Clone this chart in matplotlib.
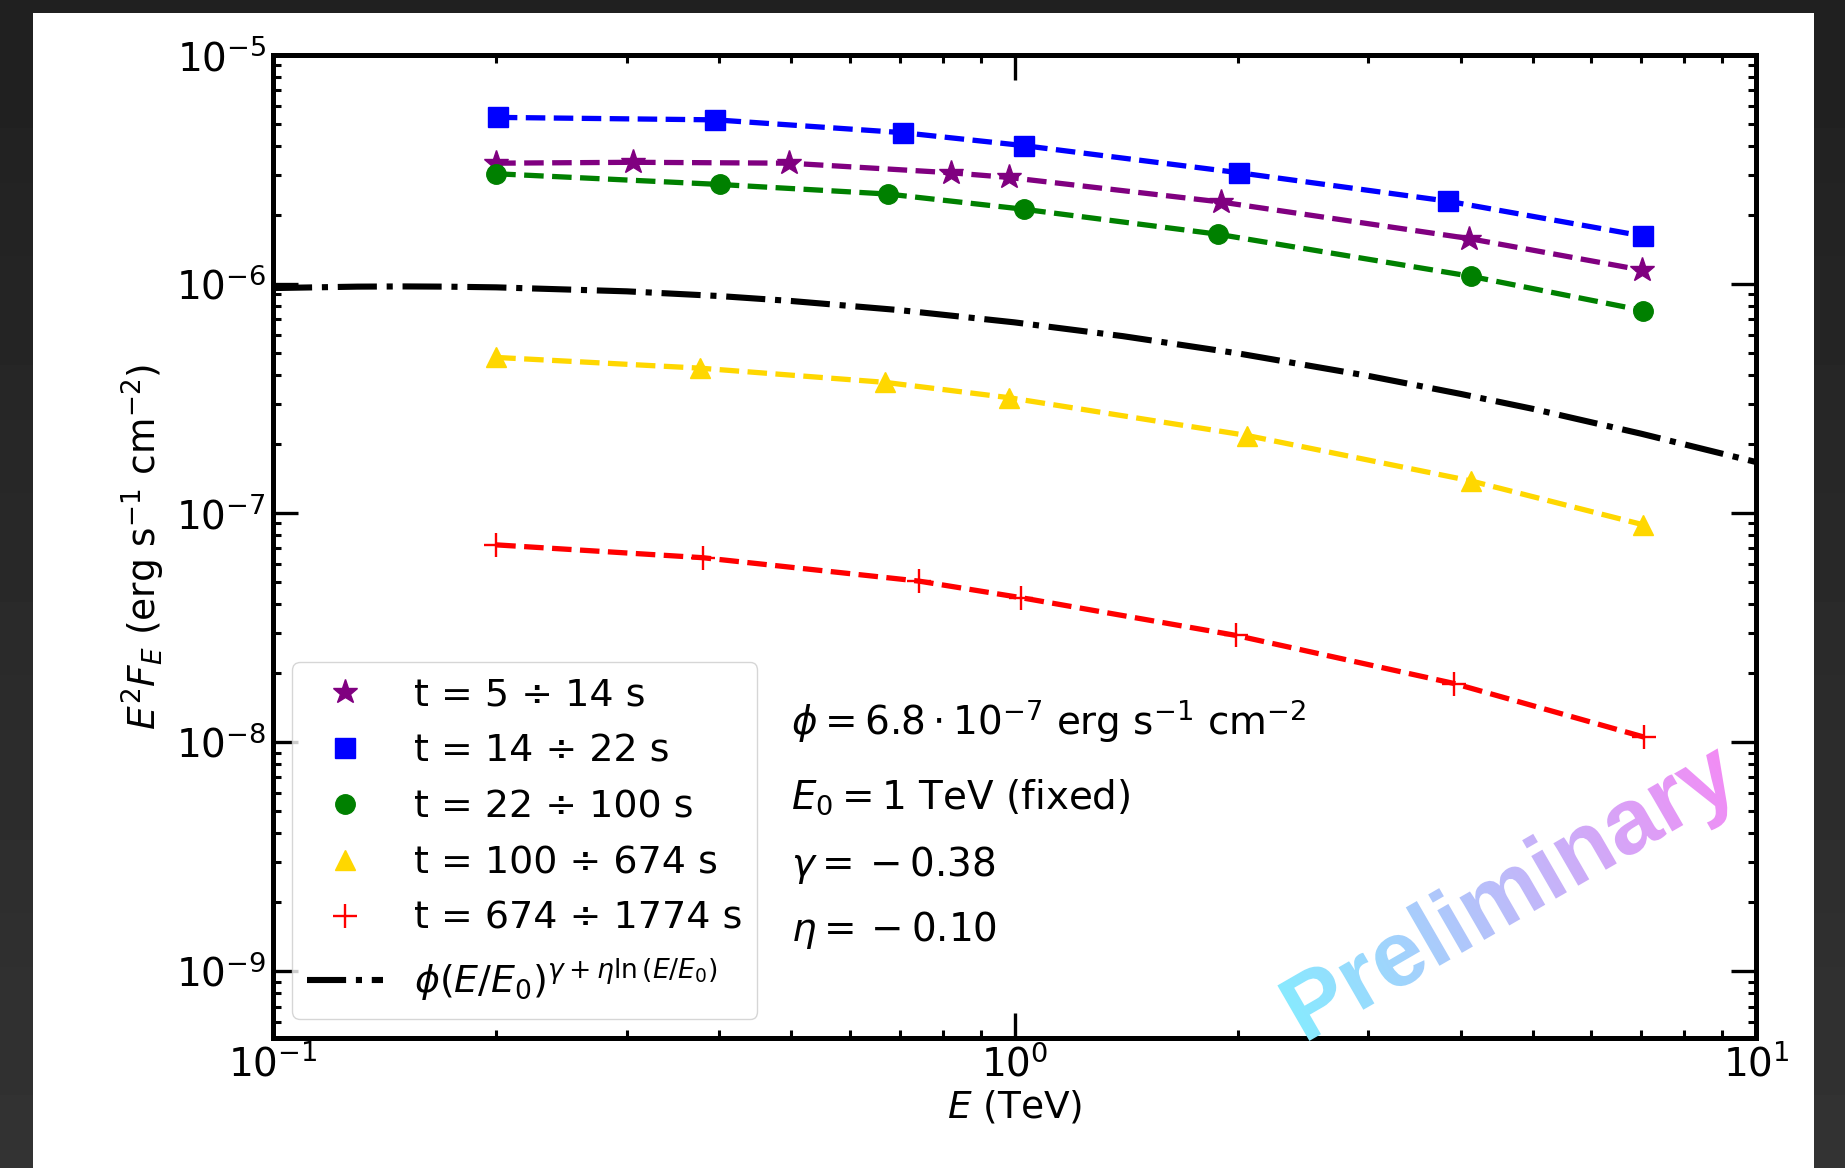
import numpy as np
import matplotlib
matplotlib.use("Agg")
import matplotlib.pyplot as plt
from matplotlib.patches import Rectangle, PathPatch
from matplotlib.textpath import TextPath
from matplotlib.font_manager import FontProperties
from matplotlib.transforms import Affine2D

# ---- data ----
E_star = [0.200, 0.306, 0.497, 0.821, 0.982, 1.90, 4.10, 7.02]
F_star = [3.37e-6, 3.40e-6, 3.37e-6, 3.06e-6, 2.92e-6, 2.28e-6, 1.58e-6, 1.15e-6]

E_sq = [0.201, 0.395, 0.707, 1.03, 2.01, 3.84, 7.04]
F_sq = [5.34e-6, 5.21e-6, 4.58e-6, 4.02e-6, 3.06e-6, 2.30e-6, 1.62e-6]

E_circ = [0.200, 0.401, 0.676, 1.03, 1.88, 4.13, 7.04]
F_circ = [3.03e-6, 2.72e-6, 2.47e-6, 2.12e-6, 1.65e-6, 1.08e-6, 7.66e-7]

E_tri = [0.200, 0.377, 0.669, 0.982, 2.06, 4.13, 7.04]
F_tri = [4.78e-7, 4.29e-7, 3.72e-7, 3.19e-7, 2.18e-7, 1.38e-7, 8.89e-8]

E_plus = [0.200, 0.380, 0.744, 1.02, 1.99, 3.92, 7.07]
F_plus = [7.26e-8, 6.38e-8, 5.04e-8, 4.27e-8, 2.92e-8, 1.80e-8, 1.05e-8]

# log-parabola model curve, sampled along the drawn line
E_model = [0.10, 0.13, 0.15, 0.17, 0.20, 0.30, 0.40, 0.50, 0.70, 1.0, 1.4, 2.0, 3.0, 4.0, 5.0, 7.0, 10.0]
F_model = [9.60e-7, 9.74e-7, 9.76e-7, 9.74e-7, 9.67e-7, 9.29e-7, 8.86e-7, 8.43e-7, 7.69e-7,
           6.80e-7, 5.92e-7, 4.98e-7, 3.97e-7, 3.31e-7, 2.85e-7, 2.22e-7, 1.67e-7]

labels = ["t = 5 ÷ 14 s", "t = 14 ÷ 22 s", "t = 22 ÷ 100 s",
          "t = 100 ÷ 674 s", "t = 674 ÷ 1774 s"]
model_label = r"$\phi(E/E_0)^{\gamma + \eta \ln{(E/E_0)}}$"
fit_text = [r"$\phi = 6.8 \cdot 10^{-7}$ erg s$^{-1}$ cm$^{-2}$",
            r"$E_0 = 1$ TeV (fixed)",
            r"$\gamma = {} - 0.38$",
            r"$\eta = {} - 0.10$"]

W, H = 1845, 1168
fig = plt.figure(figsize=(W / 100, H / 100), dpi=100, facecolor="#202020")

# dark viewer border with white canvas
bg = fig.add_axes([0, 0, 1, 1], zorder=-20)
bg.imshow(np.linspace(0.2, 0.125, 64).reshape(-1, 1), cmap="gray", vmin=0, vmax=1,
          aspect="auto", extent=[0, 1, 0, 1], origin="lower")
bg.set_axis_off()
fig.add_artist(Rectangle((33 / W, 0), (1814 - 33) / W, (H - 13) / H,
                         transform=fig.transFigure, facecolor="white",
                         edgecolor="none", zorder=-10))

ax = fig.add_axes([273 / W, 1 - 1038 / H, (1756 - 273) / W, (1038 - 55) / H])

series = [
    (E_star, F_star, "*", "purple", 18.5),
    (E_sq, F_sq, "s", "blue", 14),
    (E_circ, F_circ, "o", "green", 14),
    (E_tri, F_tri, "^", "gold", 14),
    (E_plus, F_plus, "+", "red", 17.5),
]

model_line, = ax.plot(E_model, F_model, color="black", ls="-.", lw=4.4, zorder=2)

handles = []
for (x, y, m, c, ms), lab in zip(series, labels):
    ax.plot(x, y, ls="--", color=c, lw=3.8, zorder=3)
    h, = ax.plot(x, y, ls="none", marker=m, color=c, ms=ms,
                 mew=1.7 if m == "+" else 1, label=lab, zorder=4)
    handles.append(h)
model_line.set_label(model_label)
handles.append(model_line)

ax.set_xscale("log")
ax.set_yscale("log")
ax.set_xlim(0.1, 10)
ax.set_ylim(5.1e-10, 1e-5)

ax.set_xlabel(r"$E$ (TeV)", fontsize=27, labelpad=3)
ax.set_ylabel(r"$E^2 F_E$ (erg s$^{-1}$ cm$^{-2}$)", fontsize=27, labelpad=6)

ax.tick_params(which="both", direction="in", top=True, right=True)
ax.tick_params(which="major", length=18, width=2.4, labelsize=28, pad=5)
ax.tick_params(which="minor", length=6, width=2.2)
for sp in ax.spines.values():
    sp.set_linewidth(3.6)

leg = ax.legend(handles=handles, loc="lower left", fontsize=27.4, labelspacing=0.52)

for i, t in enumerate(fit_text):
    ax.text(0.349, [0.3225, 0.245, 0.176, 0.110][i], t, transform=ax.transAxes,
            fontsize=28, ha="left", va="center")

# gradient "Preliminary" watermark
ov = fig.add_axes([0, 0, 1, 1], zorder=10)
ov.set_axis_off()
ov.patch.set_alpha(0)
x0, y0, ang = 1304, 124, 30
tp = TextPath((0, 0), "Preliminary", size=93,
              prop=FontProperties(family="Liberation Sans", weight="bold"))
tr = Affine2D().rotate_deg(ang).translate(x0, y0) + ov.transData
patch = PathPatch(tp, transform=tr, facecolor="none", edgecolor="none")
ov.add_patch(patch)
ext = [x0 - 80, x0 + 560, y0 - 40, y0 + 420]
gx, gy = np.meshgrid(np.linspace(ext[0], ext[1], 400), np.linspace(ext[2], ext[3], 300))
L = 505.0
tt = ((gx - x0) * np.cos(np.radians(ang)) + (gy - y0) * np.sin(np.radians(ang))) / L
tt = np.clip(tt, 0, 1)[..., None]
c0 = np.array([0.53, 0.92, 1.0])
c1 = np.array([0.95, 0.55, 0.96])
grad = c0 * (1 - tt) + c1 * tt
im = ov.imshow(grad, extent=ext, origin="lower", aspect="auto", zorder=1)
im.set_clip_path(patch)
ov.set_xlim(0, W)
ov.set_ylim(0, H)

fig.savefig("out.png", dpi=100, facecolor=fig.get_facecolor())
